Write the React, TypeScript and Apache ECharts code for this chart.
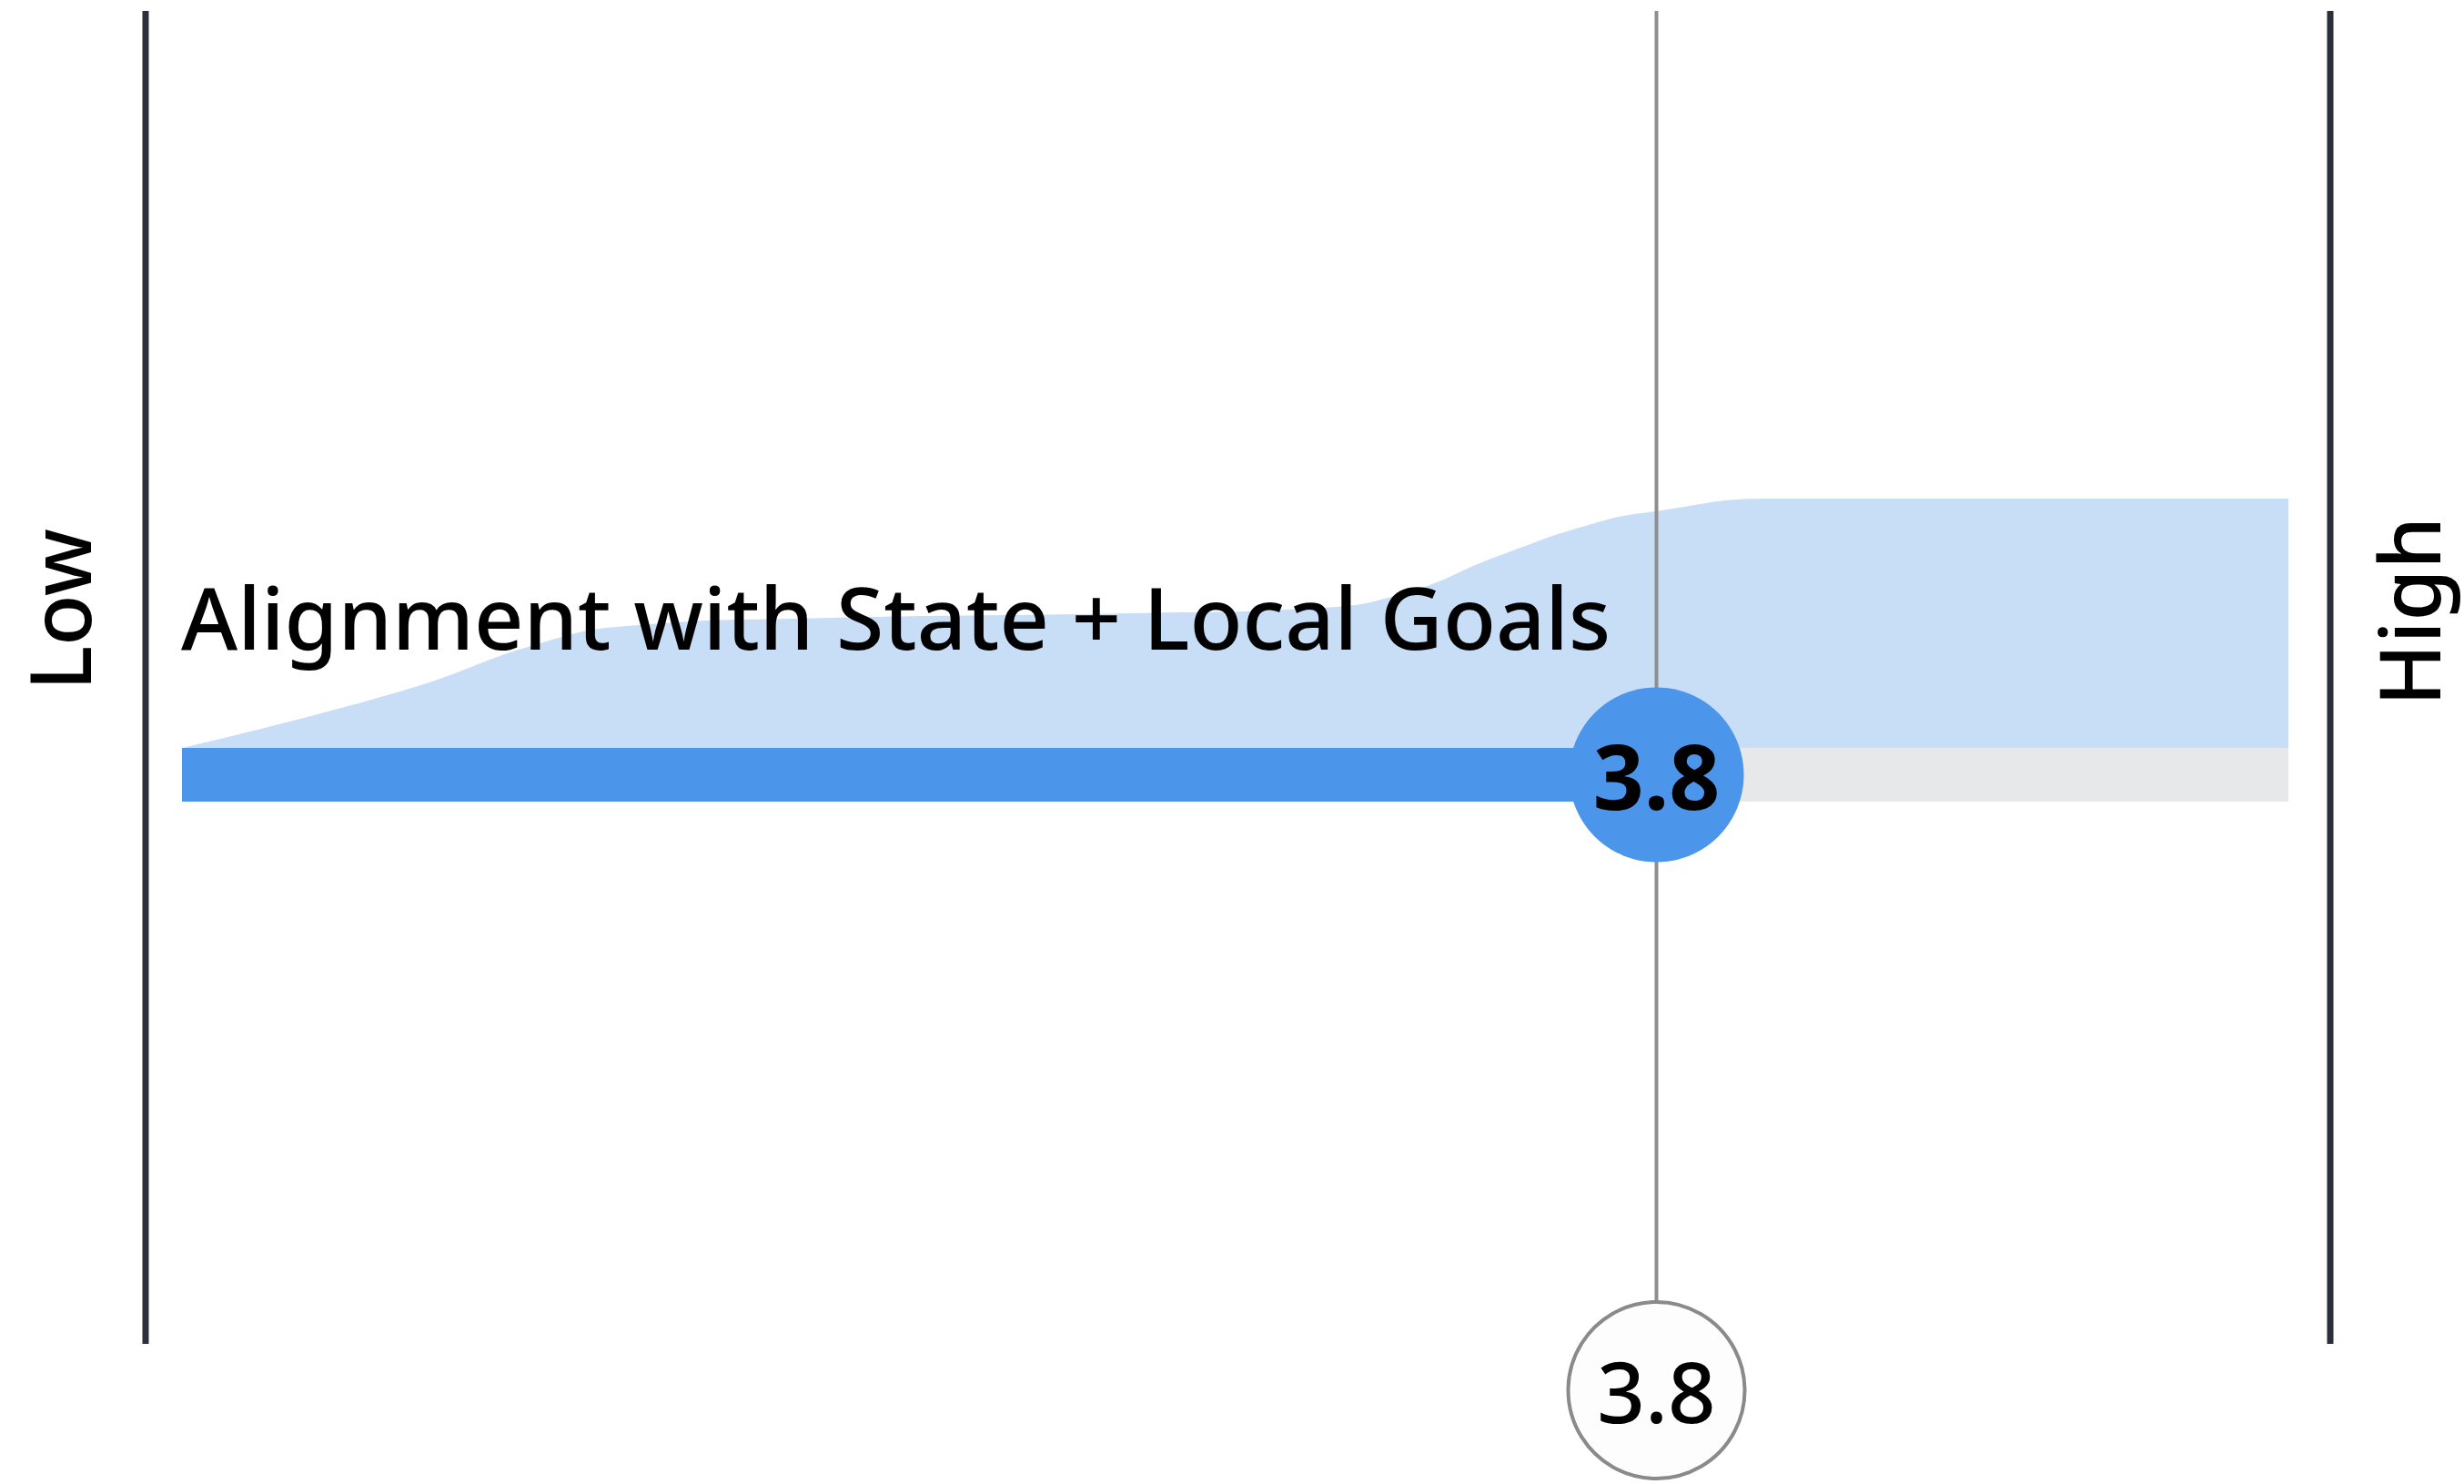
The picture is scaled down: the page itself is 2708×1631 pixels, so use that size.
import React, { useEffect, useRef } from "react";
import * as echarts from "echarts";

// ---- data ----
const categories = ["Alignment with State + Local Goals"];
const scaleMin = 1;
const scaleMax = 5;
const scores = [3.8];
const scaleLabels = ["Low", "High"];
// distribution band profile (score on x, relative height in % on y)
const bandX = [1.0, 1.42, 1.68, 1.85, 2.2, 2.8, 3.15, 3.32, 3.5, 3.68, 3.8, 4.02, 4.3, 5.0];
const bandY = [0, 23, 42, 49, 52, 54, 56, 62, 77, 90, 95, 100, 100, 100];

// ---- layout ----
const W = 2708;
const H = 1631;
const PL = 200;
const PR = 193;
const FONT = "'Noto Sans', 'DejaVu Sans', sans-serif";

export default function App() {
  const ref = useRef<HTMLDivElement>(null);
  useEffect(() => {
    if (!ref.current) return;
    const chart = echarts.init(ref.current, undefined, { renderer: "svg" });
    const score = scores[0];
    const bandData = bandX.map((x, i) => [x, bandY[i]]);
    const xAx = (gi: number) => ({
      type: "value" as const,
      gridIndex: gi,
      min: scaleMin,
      max: scaleMax,
      show: false,
    });
    chart.setOption({
      animation: false,
      backgroundColor: "#ffffff",
      grid: [
        { left: PL, right: PR, top: 548, height: 274 },
        { left: PL, right: PR, top: 822, height: 59 },
        { left: PL, right: PR, top: 12, height: 1516 },
      ],
      xAxis: [xAx(0), xAx(1), xAx(2)],
      yAxis: [
        { type: "value", gridIndex: 0, min: 0, max: 100, show: false },
        { type: "category", gridIndex: 1, data: categories, show: false },
        { type: "value", gridIndex: 2, min: 0, max: 1, show: false },
      ],
      series: [
        {
          type: "line",
          xAxisIndex: 0,
          yAxisIndex: 0,
          data: bandData,
          smooth: 0.5,
          symbol: "none",
          lineStyle: { width: 0 },
          areaStyle: { color: "#c8ddf6", opacity: 1 },
          z: 1,
          silent: true,
        },
        {
          type: "line",
          xAxisIndex: 2,
          yAxisIndex: 2,
          data: [
            [score, 0],
            [score, 1],
          ],
          symbol: "none",
          lineStyle: { color: "#8e8e8e", width: 4 },
          z: 3,
          silent: true,
        },
        {
          type: "bar",
          xAxisIndex: 1,
          yAxisIndex: 1,
          data: scores,
          barWidth: 59,
          itemStyle: { color: "#4b95eb" },
          showBackground: true,
          backgroundStyle: { color: "#e7e8ea" },
          z: 2,
          silent: true,
        },
        {
          type: "scatter",
          xAxisIndex: 1,
          yAxisIndex: 1,
          data: [[score, 0]],
          symbol: "circle",
          symbolSize: 192,
          itemStyle: { color: "#4b95eb", opacity: 1 },
          label: {
            show: true,
            position: "inside",
            formatter: (p: any) => Number(p.value[0]).toFixed(1),
            fontFamily: FONT,
            fontSize: 98,
            fontWeight: "bold",
            color: "#000000",
          },
          z: 5,
          silent: true,
        },
        {
          type: "scatter",
          xAxisIndex: 2,
          yAxisIndex: 2,
          data: [[score, 0]],
          symbol: "circle",
          symbolSize: 194,
          itemStyle: {
            color: "#fdfdfd",
            borderColor: "#8a8a8a",
            borderWidth: 4,
            opacity: 1,
          },
          label: {
            show: true,
            position: "inside",
            formatter: (p: any) => Number(p.value[0]).toFixed(1),
            fontFamily: FONT,
            fontSize: 92,
            fontWeight: 500,
            color: "#000000",
          },
          z: 5,
          silent: true,
        },
      ],
      graphic: [
        {
          type: "line",
          z: 10,
          shape: { x1: 160, y1: 12, x2: 160, y2: 1477 },
          style: { stroke: "#2b2e3b", lineWidth: 7 },
        },
        {
          type: "line",
          z: 10,
          shape: { x1: 2561, y1: 12, x2: 2561, y2: 1477 },
          style: { stroke: "#2b2e3b", lineWidth: 7 },
        },
        {
          type: "text",
          z: 10,
          x: 64,
          y: 670,
          rotation: Math.PI / 2,
          style: {
            text: scaleLabels[0],
            fontFamily: FONT,
            fontSize: 92,
            fontWeight: 500,
            fill: "#000000",
            align: "center",
            verticalAlign: "middle",
          },
        },
        {
          type: "text",
          z: 10,
          x: 2646,
          y: 672,
          rotation: Math.PI / 2,
          style: {
            text: scaleLabels[1],
            fontFamily: FONT,
            fontSize: 92,
            fontWeight: 500,
            fill: "#000000",
            align: "center",
            verticalAlign: "middle",
          },
        },
        {
          type: "text",
          z: 10,
          x: 199,
          y: 677,
          style: {
            text: categories[0],
            fontFamily: FONT,
            fontSize: 95,
            fontWeight: 500,
            fill: "#000000",
            align: "left",
            verticalAlign: "middle",
          },
        },
      ],
    });
    return () => chart.dispose();
  }, []);
  return (
    <div
      ref={ref}
      style={{ position: "fixed", left: 0, top: 0, width: W, height: H }}
    />
  );
}
